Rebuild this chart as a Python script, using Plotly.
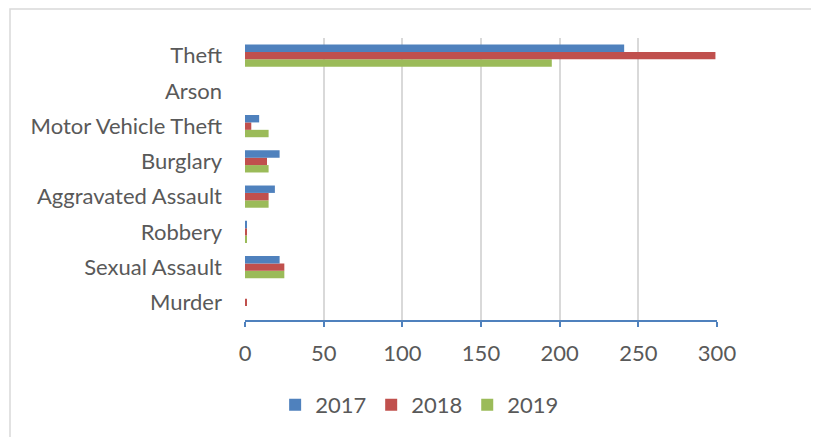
import plotly.graph_objects as go

categories = ["Murder", "Sexual Assault", "Robbery", "Aggravated Assault",
              "Burglary", "Motor Vehicle Theft", "Arson", "Theft"]
series_names = ["2017", "2018", "2019"]
values_2017 = [0, 22, 1, 19, 22, 9, 0, 241]
values_2018 = [1, 25, 1, 15, 14, 4, 0, 299]
values_2019 = [0, 25, 1, 15, 15, 15, 0, 195]
colors = ["#4F81BD", "#C0504D", "#9BBB59"]
x_ticks = [0, 50, 100, 150, 200, 250, 300]

fig = go.Figure()
series = list(zip(series_names, [values_2017, values_2018, values_2019], colors))
# add in reverse so that 2017 is drawn on top within each group (Excel style)
for name, vals, col in reversed(series):
    fig.add_trace(go.Bar(
        y=categories, x=vals, name=name, orientation="h",
        marker=dict(color=col, line=dict(width=0)),
    ))

# page body has an 8px margin, so the figure is offset by (8, 8)
OFF = 8
W, H = 819 - OFF, 437 - OFF
L, T = 245 - OFF, 38 - OFF
pw, ph = 472, 282
R, B = W - L - pw, H - T - ph

font = "Lato, 'Open Sans', 'Liberation Sans', sans-serif"
fig.update_layout(
    width=W, height=H,
    margin=dict(l=L, r=R, t=T, b=B, pad=0, autoexpand=False),
    paper_bgcolor="white", plot_bgcolor="white",
    barmode="group", bargap=0.37, bargroupgap=0,
    font=dict(family=font, size=22, color="#595959"),
    legend=dict(orientation="h", x=0.37, xanchor="center", y=-85 / ph, yanchor="middle",
                traceorder="reversed", font=dict(size=22, color="#595959"),
                itemwidth=30, itemsizing="constant"),
    xaxis=dict(range=[0, 300], tickvals=x_ticks, showgrid=True, gridcolor="#D9D9D9",
               gridwidth=2, zeroline=False, showline=True, linecolor="#4F81BD",
               linewidth=1.5, ticks="outside", ticklen=5, tickcolor="#4F81BD",
               tickwidth=1.5, ticklabelstandoff=8),
    yaxis=dict(categoryorder="array", categoryarray=categories,
               showgrid=False, zeroline=False, showline=False, ticks="",
               ticklabelstandoff=22),
)

# outer chart border (bottom edge lies outside the visible frame)
bx0, bx1, by0 = 10 - OFF, 817 - OFF, 9 - OFF
fig.add_shape(type="rect", xref="paper", yref="paper",
              x0=(bx0 - L) / pw, x1=(bx1 - L) / pw,
              y0=-(H + 10 - T - ph) / ph, y1=(T - by0 + ph) / ph,
              line=dict(color="#D9D9D9", width=1.5), fillcolor="rgba(0,0,0,0)", layer="below")

fig.write_html("out.html")
